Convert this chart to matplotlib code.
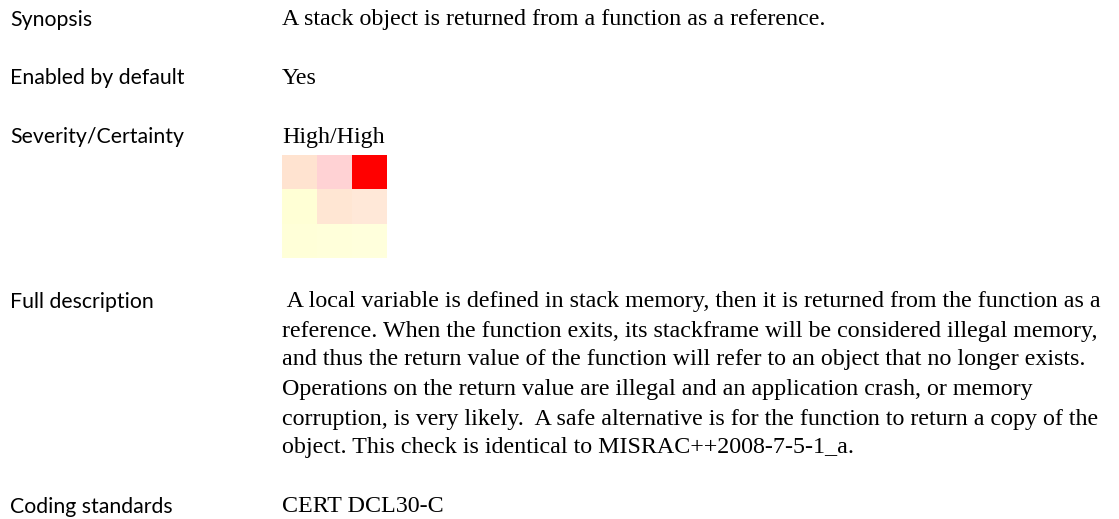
import matplotlib
matplotlib.use('Agg')
import matplotlib.pyplot as plt
import matplotlib.colors as mcolors
import numpy as np

W, H = 1119, 519

# row labels (left column) and their values (right column)
labels = ['Synopsis', 'Enabled by default', 'Severity/Certainty',
          'Full description', 'Coding standards']
label_y = [20, 78, 137, 302, 507]

synopsis = 'A stack object is returned from a function as a reference.'
enabled = 'Yes'
severity = 'High/High'
description = [
    ' A local variable is defined in stack memory, then it is returned from the function as a',
    'reference. When the function exits, its stackframe will be considered illegal memory,',
    'and thus the return value of the function will refer to an object that no longer exists.',
    'Operations on the return value are illegal and an application crash, or memory',
    'corruption, is very likely.  A safe alternative is for the function to return a copy of the',
    'object. This check is identical to MISRAC++2008-7-5-1_a.',
]
desc_y = [302, 331, 360, 390, 419, 448]
standards = 'CERT DCL30-C'

# severity (rows, high at top) x certainty (cols) colour grid
grid_colors = [
    ['#ffe3d0', '#ffd2d4', '#ff0000'],
    ['#ffffd5', '#ffe6d3', '#ffe8d8'],
    ['#ffffd8', '#ffffda', '#ffffdc'],
]

label_font = 'Lato'
body_font = 'Liberation Serif'
lsize = 15.3
bsize = 17.3

fig = plt.figure(figsize=(W / 100, H / 100), dpi=100)
fig.patch.set_facecolor('white')


def px(x, y):
    return x / W, 1 - y / H


for lab, y in zip(labels, label_y):
    fig.text(*px(10, y), lab, family=label_font, fontsize=lsize,
             va='center', ha='left', color='black')

fig.text(*px(282, 20), synopsis, family=body_font, fontsize=bsize,
         va='center', ha='left')
fig.text(*px(282, 78), enabled, family=body_font, fontsize=bsize,
         va='center', ha='left')
fig.text(*px(282, 137), severity, family=body_font, fontsize=bsize,
         va='center', ha='left')
for line, y in zip(description, desc_y):
    fig.text(*px(282, y), line, family=body_font, fontsize=bsize,
             va='center', ha='left')
fig.text(*px(282, 507), standards, family=body_font, fontsize=bsize,
         va='center', ha='left')

# the small 3x3 risk matrix
rgb = np.array([[mcolors.to_rgb(c) for c in row] for row in grid_colors])
left, top = px(282, 155)
right, bottom = px(387, 258)
ax = fig.add_axes([left, bottom, right - left, top - bottom])
ax.imshow(rgb, aspect='auto', interpolation='nearest')
ax.set_axis_off()

fig.savefig('out.png', dpi=100, facecolor='white')
